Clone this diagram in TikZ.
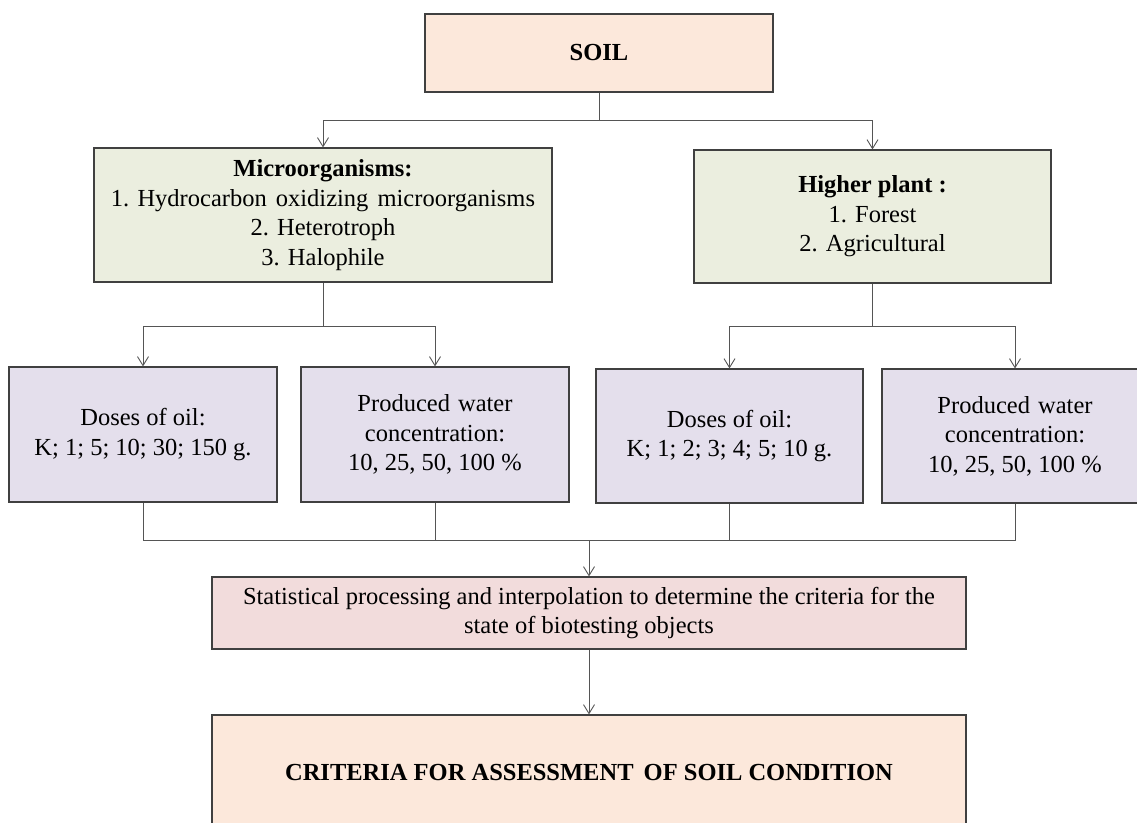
\documentclass[tikz,border=0pt]{standalone}
\usepackage{fontspec}
\setmainfont{Liberation Serif}
\usetikzlibrary{arrows.meta}
\definecolor{peach}{RGB}{252,232,219}
\definecolor{sage}{RGB}{235,238,223}
\definecolor{lilac}{RGB}{228,223,236}
\definecolor{rose}{RGB}{242,220,220}
\definecolor{edge}{RGB}{64,64,64}
\definecolor{wire}{RGB}{85,85,85}
\begin{document}
\begin{tikzpicture}[x=1pt,y=-1pt,
  box/.style={draw=edge,line width=1.1pt,rectangle,align=center,inner sep=0pt,
    font=\fontsize{24.5}{29.5}\selectfont},
  link/.style={draw=wire,line width=0.9pt},
  arr/.style={link,-{Straight Barb[length=9pt,width=11pt,line width=0.9pt]}}]
\useasboundingbox (0,0) rectangle (1137,822);
\clip (0,0) rectangle (1137,822);

% boxes
\node[box,fill=peach,minimum width=348pt,minimum height=78pt] (soil) at (599,53) {\textbf{SOIL}};
\node[box,fill=sage,minimum width=458pt,minimum height=134pt] (micro) at (323,215)
  {\textbf{Microorganisms:}\\1. Hydrocarbon\hspace{3pt} oxidizing\hspace{3pt} microorganisms\\2. Heterotroph\\3. Halophile};
\node[box,fill=sage,minimum width=357pt,minimum height=133pt] (higher) at (872.5,216.5)
  {\textbf{Higher plant :}\\1. Forest\\2. Agricultural};
\node[box,fill=lilac,minimum width=268pt,minimum height=135pt] (d1) at (143,434.5)
  {Doses of oil:\\K; 1; 5; 10; 30; 150 g.};
\node[box,fill=lilac,minimum width=268pt,minimum height=135pt] (w1) at (435,434.5)
  {Produced\hspace{2pt} water\\concentration:\\10, 25, 50, 100 \%};
\node[box,fill=lilac,minimum width=267pt,minimum height=134pt] (d2) at (729.5,436)
  {Doses of oil:\\K; 1; 2; 3; 4; 5; 10 g.};
\node[box,fill=lilac,minimum width=266pt,minimum height=134pt] (w2) at (1015,436)
  {Produced\hspace{2pt} water\\concentration:\\10, 25, 50, 100 \%};
\node[box,fill=rose,minimum width=754pt,minimum height=72pt] (stat) at (589,613)
  {Statistical processing and interpolation to determine the criteria for the\\state of biotesting objects};
\node[box,fill=peach,minimum width=754pt,minimum height=114pt] (crit) at (589,772)
  {\textbf{CRITERIA FOR ASSESSMENT\hspace{4pt} OF SOIL CONDITION}};

% junction points of the connector buses
\coordinate (sb) at (599,120);
\coordinate (mb) at (323,326);
\coordinate (hb) at (872.5,326);
\coordinate (bb) at (589,540);

% connectors
\draw[link] (soil.south) -- (sb);
\draw[arr] (sb) -| (micro.north);
\draw[arr] (sb) -| (higher.north);
\draw[link] (micro.south) -- (mb);
\draw[arr] (mb) -| (d1.north);
\draw[arr] (mb) -| (w1.north);
\draw[link] (higher.south) -- (hb);
\draw[arr] (hb) -| (d2.north);
\draw[arr] (hb) -| (w2.north);
\draw[link] (d1.south) |- (bb);
\draw[link] (w1.south) |- (bb);
\draw[link] (d2.south) |- (bb);
\draw[link] (w2.south) |- (bb);
\draw[arr] (bb) -- (stat.north);
\draw[arr] (stat.south) -- (crit.north);
\end{tikzpicture}
\end{document}
